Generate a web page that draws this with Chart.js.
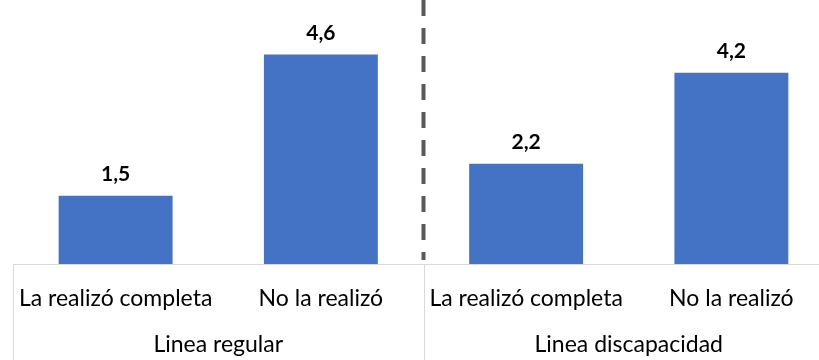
<!DOCTYPE html>
<html>
<head>
<meta charset="utf-8">
<script src="https://cdn.jsdelivr.net/npm/chart.js@4"></script>
<style>
  html, body { margin: 0; padding: 0; background: #ffffff; overflow: hidden; }
  #wrap { width: 834px; height: 360px; }
</style>
</head>
<body>
<div id="wrap"><canvas id="c" width="834" height="360"></canvas></div>
<script>
// Average values by completion status, split by line type
const categories = ['La realizó completa', 'No la realizó', 'La realizó completa', 'No la realizó'];
const groups = ['Linea regular', 'Linea discapacidad'];
const values = [1.5, 4.6, 2.2, 4.2];

const FONT = 'Lato, "Noto Sans", sans-serif';

// Axis rules, group separators and the dashed divider between the two lines
const framePlugin = {
  id: 'frame',
  beforeDatasetsDraw(chart) {
    const { ctx, chartArea, scales } = chart;
    const x = scales.x;
    const sep = (x.getPixelForValue(1) + x.getPixelForValue(2)) / 2;
    ctx.save();
    ctx.strokeStyle = '#595959';
    ctx.lineWidth = 4;
    ctx.setLineDash([16, 12]);
    ctx.beginPath();
    ctx.moveTo(sep, chartArea.top);
    ctx.lineTo(sep, chartArea.bottom - 4);
    ctx.stroke();
    ctx.restore();
  },
  afterDraw(chart) {
    const { ctx, chartArea, scales, height } = chart;
    const x = scales.x;
    const sep = (x.getPixelForValue(1) + x.getPixelForValue(2)) / 2;
    ctx.save();
    ctx.strokeStyle = '#d9d9d9';
    ctx.lineWidth = 1;
    ctx.beginPath();
    ctx.moveTo(chartArea.left, chartArea.bottom + 0.5);
    ctx.lineTo(chartArea.right, chartArea.bottom + 0.5);
    ctx.moveTo(chartArea.left + 0.5, chartArea.bottom);
    ctx.lineTo(chartArea.left + 0.5, height);
    ctx.moveTo(Math.round(sep) + 0.5, chartArea.bottom);
    ctx.lineTo(Math.round(sep) + 0.5, height);
    ctx.stroke();
    ctx.restore();
  }
};

// Value labels above each bar
const valueLabels = {
  id: 'valueLabels',
  afterDatasetsDraw(chart) {
    const { ctx } = chart;
    chart.data.datasets.forEach((ds, di) => {
      chart.getDatasetMeta(di).data.forEach((bar, i) => {
        ctx.save();
        ctx.fillStyle = '#000000';
        ctx.font = 'bold 21px ' + FONT;
        ctx.textAlign = 'center';
        ctx.textBaseline = 'alphabetic';
        ctx.fillText(ds.data[i].toFixed(1).replace('.', ','), bar.x, bar.y - 15);
        ctx.restore();
      });
    });
  }
};

// Keep the axis heights fixed and stop label overhang from shrinking the plot
function fixAxis(height) {
  return function (scale) {
    scale.height = height;
    scale.paddingLeft = 0;
    scale.paddingRight = 0;
  };
}

new Chart(document.getElementById('c'), {
  type: 'bar',
  data: {
    labels: categories,
    datasets: [{
      data: values,
      backgroundColor: '#4472C4',
      borderWidth: 0,
      categoryPercentage: 1,
      barPercentage: 0.555
    }]
  },
  options: {
    responsive: false,
    animation: false,
    layout: { padding: { left: 13, right: 0, top: 0, bottom: 0 } },
    plugins: { legend: { display: false }, tooltip: { enabled: false } },
    scales: {
      y: {
        display: false,
        min: 0,
        max: 5.8
      },
      x: {
        type: 'category',
        position: 'bottom',
        weight: 1,
        grid: { display: false, drawTicks: false },
        border: { display: false },
        ticks: {
          color: '#000000',
          font: { family: FONT, size: 23 },
          padding: 21,
          maxRotation: 0,
          autoSkip: false
        },
        afterFit: fixAxis(61)
      },
      x2: {
        type: 'category',
        position: 'bottom',
        weight: 2,
        labels: groups,
        offset: true,
        grid: { display: false, drawTicks: false },
        border: { display: false },
        ticks: {
          color: '#000000',
          font: { family: FONT, size: 23 },
          padding: 6,
          maxRotation: 0,
          autoSkip: false
        },
        afterFit: fixAxis(35)
      }
    }
  },
  plugins: [framePlugin, valueLabels]
});
</script>
</body>
</html>
